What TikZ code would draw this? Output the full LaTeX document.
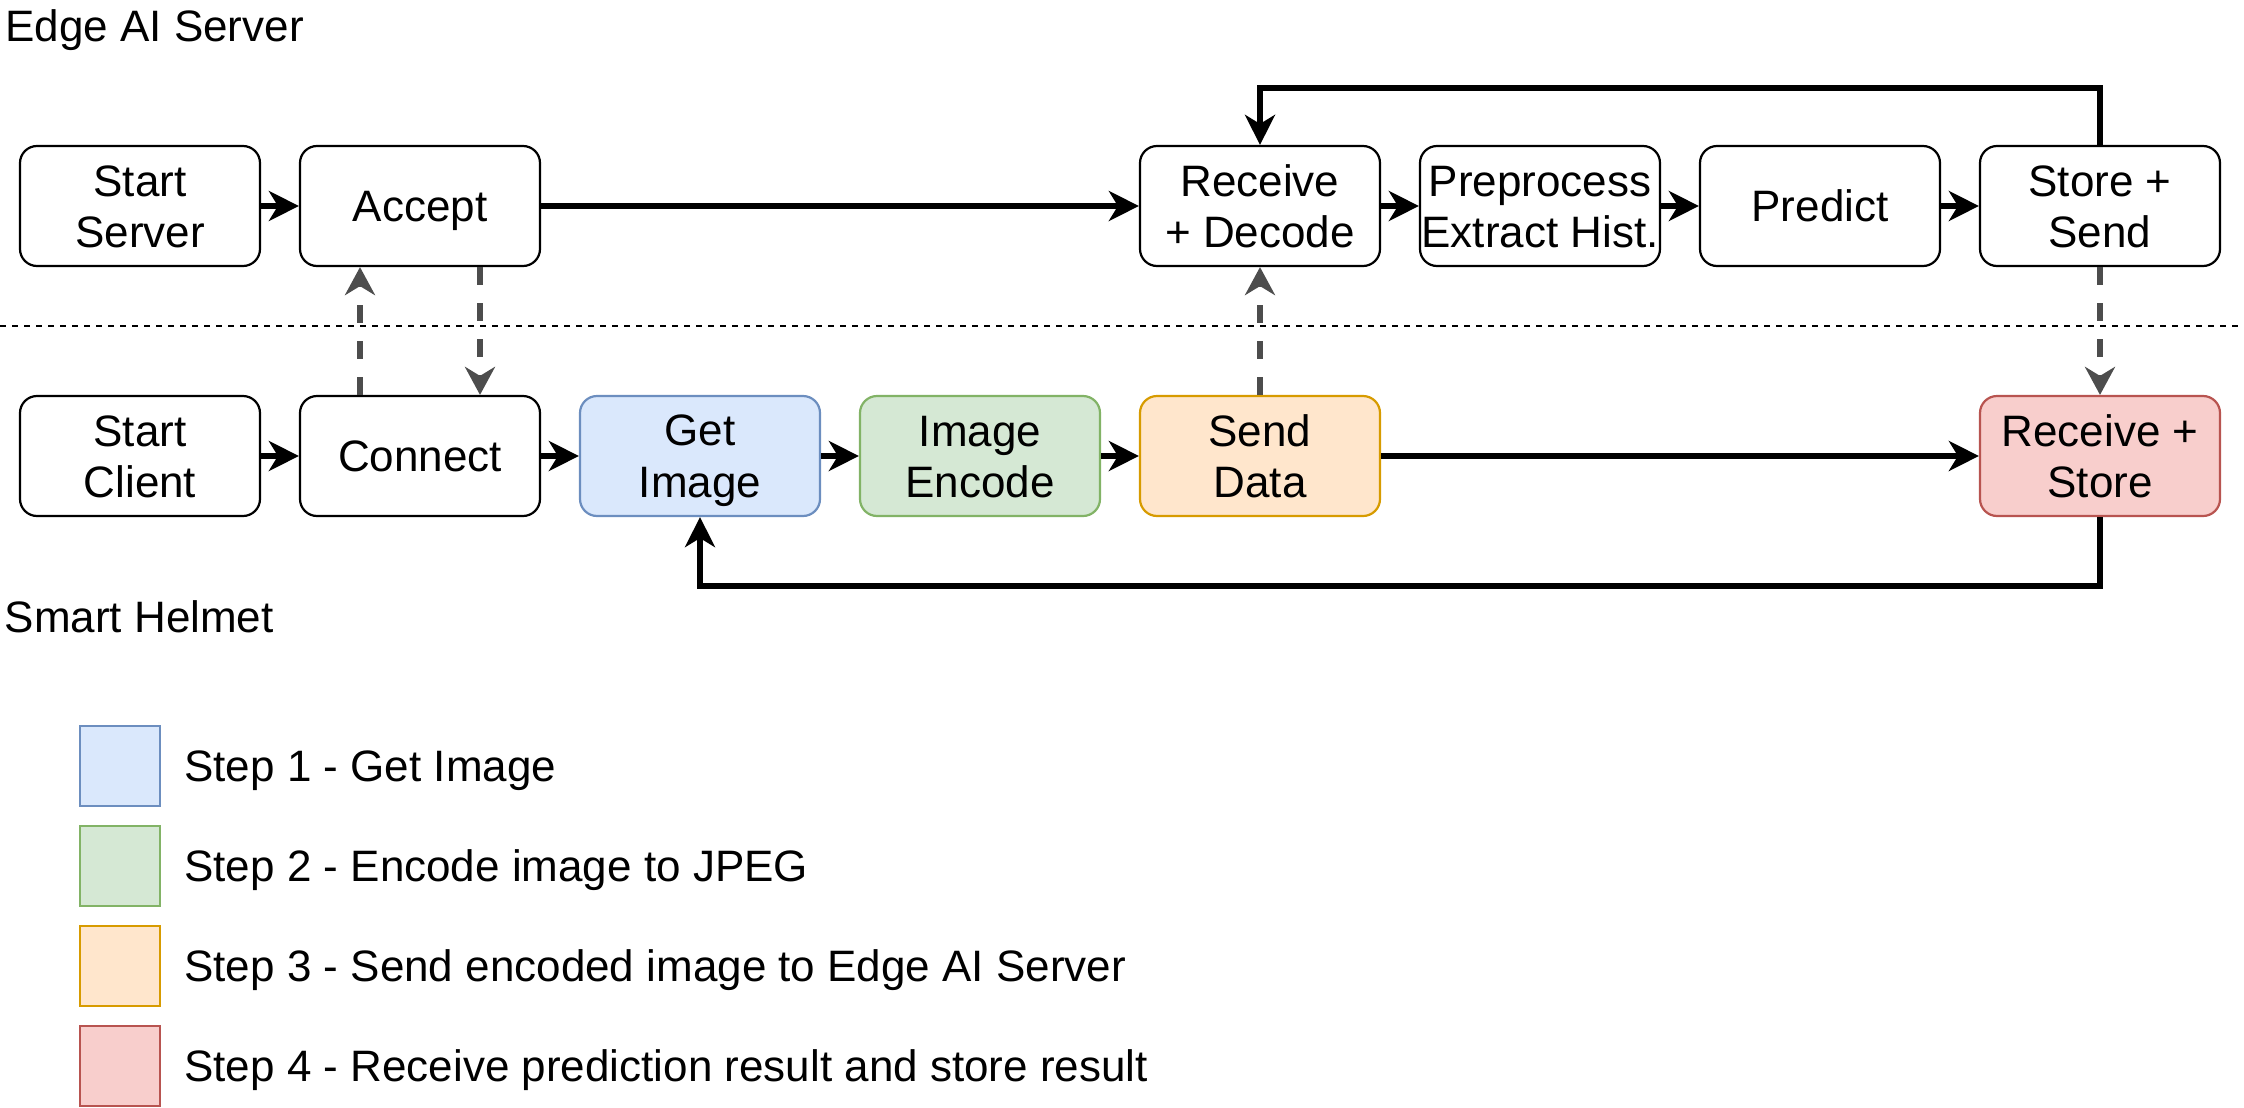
\documentclass[tikz,border=0pt]{standalone}
\usepackage{fontspec}
\setmainfont{Liberation Sans}
\usetikzlibrary{arrows.meta}
\definecolor{bfill}{HTML}{DAE8FC}\definecolor{bdraw}{HTML}{6C8EBF}
\definecolor{gfill}{HTML}{D5E8D4}\definecolor{gdraw}{HTML}{82B366}
\definecolor{ofill}{HTML}{FFE6CC}\definecolor{odraw}{HTML}{D79B00}
\definecolor{rfill}{HTML}{F8CECC}\definecolor{rdraw}{HTML}{B85450}
\definecolor{dgray}{HTML}{4D4D4D}
\newcommand\bstrut{\rule[-4.2pt]{0pt}{24.2pt}}
\tikzset{
  txt/.style={font=\fontsize{22}{25.6}\selectfont, execute at begin node=\bstrut, execute at end node=\bstrut},
  box/.style={txt, draw=black, line width=1.1pt, rounded corners=8.5pt, minimum width=120pt, minimum height=60pt, inner sep=0pt, align=center},
  lbl/.style={txt, anchor=west, inner sep=0pt},
  legbox/.style={line width=1.2pt, minimum width=40pt, minimum height=40pt, inner sep=0pt},
  arr/.style={line width=2.8pt, -{Stealth[length=15pt, width=15pt, inset=4.5pt]}},
  darr/.style={line width=2.8pt, dgray, dash pattern=on 9pt off 9pt, -{Stealth[length=14pt, width=15pt, inset=4.5pt]}},
}
\begin{document}
\begin{tikzpicture}[x=1pt, y=-1pt]
\useasboundingbox (0,0) rectangle (1122,554);
% headers
\node[lbl] (hs) at (2.5,12.8) {Edge AI Server};
\node[lbl] (hh) at (2.2,308.2) {Smart Helmet};
% separator
\coordinate (sepl) at (0,163);
\coordinate (sepr) at (1122,163);
\draw[line width=1pt, dash pattern=on 3pt off 3pt] (sepl) -- (sepr);
% top row
\node[box] (ss)  at (70,103)  {\bstrut Start\\Server\bstrut};
\node[box] (acc) at (210,103) {Accept};
\node[box] (rd)  at (630,103) {\bstrut Receive\\+ Decode\bstrut};
\node[box] (pp)  at (770,103) {\bstrut Preprocess\\Extract Hist.\bstrut};
\node[box] (pr)  at (910,103) {Predict};
\node[box] (sts) at (1050,103) {\bstrut Store +\\Send\bstrut};
% bottom row
\node[box] (sc) at (70,228)  {\bstrut Start\\Client\bstrut};
\node[box] (cn) at (210,228) {Connect};
\node[box, fill=bfill, draw=bdraw] (gi) at (350,228) {\bstrut Get\\Image\bstrut};
\node[box, fill=gfill, draw=gdraw] (ie) at (490,228) {\bstrut Image\\Encode\bstrut};
\node[box, fill=ofill, draw=odraw] (sd) at (630,228) {\bstrut Send\\Data\bstrut};
\node[box, fill=rfill, draw=rdraw] (rs) at (1050,228) {\bstrut Receive +\\Store\bstrut};
% solid arrows
\draw[arr] (ss) -- (acc);
\draw[arr] (acc) -- (rd);
\draw[arr] (rd) -- (pp);
\draw[arr] (pp) -- (pr);
\draw[arr] (pr) -- (sts);
\coordinate (tl) at (630,44);
\draw[arr] (sts.north) |- (tl) -- (rd.north);
\draw[arr] (sc) -- (cn);
\draw[arr] (cn) -- (gi);
\draw[arr] (gi) -- (ie);
\draw[arr] (ie) -- (sd);
\draw[arr] (sd) -- (rs);
\coordinate (bl) at (350,293);
\draw[arr] (rs.south) |- (bl) -- (gi.south);
% dashed arrows
\draw[darr] ([xshift=-30pt]cn.north) -- ([xshift=-30pt]acc.south);
\draw[darr] ([xshift=30pt]acc.south) -- ([xshift=30pt]cn.north);
\draw[darr] (sd.north) -- (rd.south);
\draw[darr] (sts.south) -- (rs.north);
% legend
\node[legbox, fill=bfill, draw=bdraw] (l1) at (60,383) {};
\node[legbox, fill=gfill, draw=gdraw] (l2) at (60,433) {};
\node[legbox, fill=ofill, draw=odraw] (l3) at (60,483) {};
\node[legbox, fill=rfill, draw=rdraw] (l4) at (60,533) {};
\node[lbl] (t1) at (92,383) {Step 1 - Get Image};
\node[lbl] (t2) at (92,433) {Step 2 - Encode image to JPEG};
\node[lbl] (t3) at (92,483) {Step 3 - Send encoded image to Edge AI Server};
\node[lbl] (t4) at (92,533) {Step 4 - Receive prediction result and store result};
\end{tikzpicture}
\end{document}
